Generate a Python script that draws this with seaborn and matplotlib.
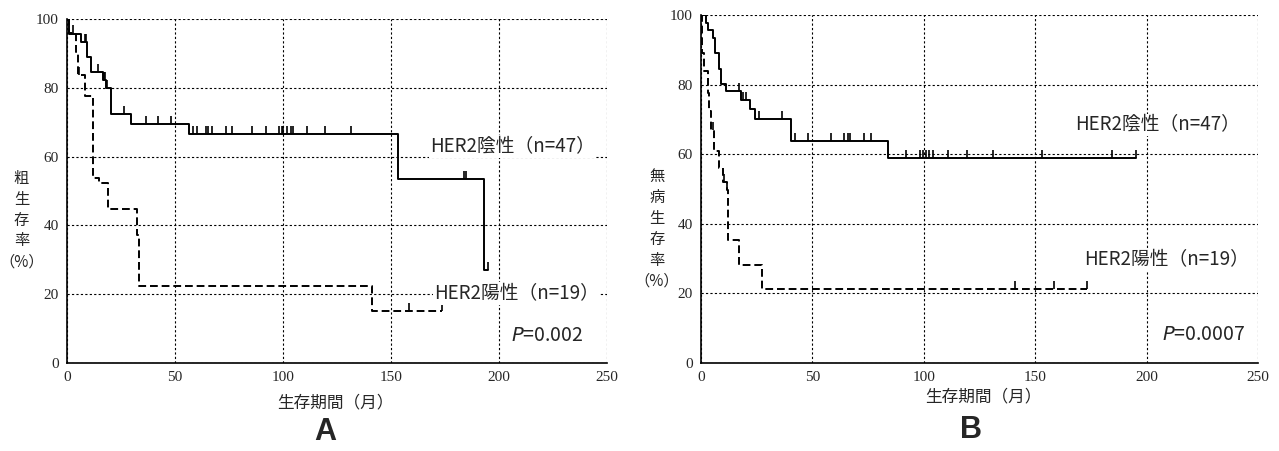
import numpy as np
import pandas as pd
import matplotlib
matplotlib.use("Agg")
import matplotlib.pyplot as plt
import seaborn as sns

# --------------------------
# DATA
# --------------------------
# Panel A: overall survival
a_neg_time = [0, 0.8, 6.3, 9.4, 10.9, 16.5, 18.0, 20.2, 29.5, 56.5, 153.4, 193.2, 195.0]
a_neg_surv = [100, 95.8, 93.5, 89.2, 84.8, 82.3, 80.0, 72.4, 69.6, 66.6, 53.4, 27.0, 27.0]
a_neg_cens = [8.5, 9.0, 14.2, 17.0, 17.5, 18.5, 26.4, 36.4, 42.3, 48.1, 58.5, 60.0, 64.4,
              65.4, 67.0, 73.6, 76.2, 85.5, 92.1, 98.3, 99.4, 100.1, 101.7, 103.5, 104.5,
              111.3, 119.4, 131.3, 184.0, 184.8, 195.0]

a_pos_time = [0, 1.0, 4.2, 5.2, 8.3, 12.2, 14.8, 19.1, 32.3, 33.3, 141.4, 173.5]
a_pos_surv = [100, 96.0, 90.6, 83.8, 77.8, 53.8, 52.3, 44.7, 37.2, 22.3, 15.1, 15.1]
a_pos_cens = [3.0, 5.5, 158.3, 173.5]

# Panel B: disease-free survival
b_neg_time = [0, 2.1, 3.3, 5.5, 6.3, 8.2, 9.0, 11.2, 17.8, 22.0, 24.2, 40.2, 84.1, 195.2]
b_neg_surv = [100, 97.8, 95.7, 93.3, 89.0, 84.5, 80.2, 78.0, 75.6, 72.9, 70.0, 63.8, 59.0, 59.0]
b_neg_cens = [17.2, 19.0, 20.2, 26.2, 36.2, 42.2, 48.2, 58.2, 64.2, 66.1, 66.9, 73.2, 76.2,
              92.0, 98.3, 99.5, 101.0, 102.5, 104.0, 111.0, 119.2, 130.9, 152.9, 184.3, 195.2]

b_pos_time = [0, 0.5, 1.2, 3.0, 3.6, 4.6, 5.8, 7.9, 10.0, 11.5, 12.3, 17.1, 27.2, 173.1]
b_pos_surv = [100, 89.0, 84.0, 77.5, 72.5, 67.0, 61.0, 56.0, 52.0, 49.6, 35.3, 28.2, 21.2, 21.2]
b_pos_cens = [5.6, 10.5, 11.8, 140.9, 158.4, 173.1]

x_ticks = [0, 50, 100, 150, 200, 250]
y_ticks = [0, 20, 40, 60, 80, 100]

label_neg = "HER2陰性（n=47）"
label_pos = "HER2陽性（n=19）"
x_label = "生存期間（月）"

# --------------------------
# STYLE
# --------------------------
sns.set_style("white")
plt.rcParams['font.family'] = ['Noto Sans CJK JP', 'DejaVu Sans']
CJK = ['Noto Sans CJK JP', 'DejaVu Sans']
SERIF = ['Liberation Serif', 'DejaVu Serif']


def step_value(times, surv, t):
    idx = np.searchsorted(times, t, side="right") - 1
    return np.asarray(surv)[idx]


def draw_curve(ax, times, surv, cens, dashed):
    df = pd.DataFrame({"time": times, "surv": surv})
    ls = (0, (4, 2)) if dashed else "-"
    sns.lineplot(data=df, x="time", y="surv", ax=ax, estimator=None, sort=False,
                 drawstyle="steps-post", color="black", linewidth=1.4, linestyle=ls)
    cdf = pd.DataFrame({"time": cens, "surv": [step_value(times, surv, c) for c in cens]})
    sns.scatterplot(data=cdf, x="time", y="surv", ax=ax, marker=2, s=30,
                    color="black", linewidth=1.2, zorder=5)


def style_axes(ax):
    ax.set_xlim(0, 250)
    ax.set_ylim(0, 100)
    ax.set_xticks(x_ticks)
    ax.set_yticks(y_ticks)
    ax.grid(True, color="black", linestyle=(0, (2, 2)), linewidth=0.8)
    for side in ["top", "right"]:
        ax.spines[side].set_visible(False)
    for side in ["left", "bottom"]:
        ax.spines[side].set_color("black")
        ax.spines[side].set_linewidth(1.2)
    ax.tick_params(direction="out", length=4, width=1, color="black", pad=2)
    for lab in ax.get_xticklabels() + ax.get_yticklabels():
        lab.set_family(SERIF)
        lab.set_fontsize(11)
    ax.set_xlabel("")
    ax.set_ylabel("")


fig = plt.figure(figsize=(12.79, 4.51), dpi=100)
ax_a = fig.add_axes([0.0524, 0.1958, 0.4222, 0.761])
ax_b = fig.add_axes([0.5481, 0.1958, 0.4355, 0.771])

box = dict(facecolor="white", edgecolor="none", pad=0.5)
ptxt = dict(fontsize=14, va="center", ha="right", zorder=6)

# --------------------------
# PANEL A
# --------------------------
draw_curve(ax_a, a_neg_time, a_neg_surv, a_neg_cens, dashed=False)
draw_curve(ax_a, a_pos_time, a_pos_surv, a_pos_cens, dashed=True)
style_axes(ax_a)
ax_a.text(168, 63, label_neg, fontsize=13.5, family=CJK, va="center", ha="left", bbox=box, zorder=6)
ax_a.text(170, 20.2, label_pos, fontsize=13.5, family=CJK, va="center", ha="left", bbox=box, zorder=6)
ax_a.text(239, 7.8, r"$\it{P}$=0.002", **ptxt)

fig.text(0.0168, 0.512, "粗\n生\n存\n率\n（%）", fontsize=11, family=CJK,
         ha="center", va="center", linespacing=1.3)
fig.text(0.262, 0.106, x_label, fontsize=12, family=CJK, ha="center", va="center")
fig.text(0.254, 0.042, "A", fontsize=22, family=['Liberation Sans', 'DejaVu Sans'],
         weight="bold", ha="center", va="center")

# --------------------------
# PANEL B
# --------------------------
draw_curve(ax_b, b_neg_time, b_neg_surv, b_neg_cens, dashed=False)
draw_curve(ax_b, b_pos_time, b_pos_surv, b_pos_cens, dashed=True)
style_axes(ax_b)
ax_b.text(168, 68.4, label_neg, fontsize=13.5, family=CJK, va="center", ha="left", bbox=box, zorder=6)
ax_b.text(172, 29.7, label_pos, fontsize=13.5, family=CJK, va="center", ha="left", bbox=box, zorder=6)
ax_b.text(244, 8, r"$\it{P}$=0.0007", **ptxt)

fig.text(0.5135, 0.493, "無\n病\n生\n存\n率\n（%）", fontsize=11, family=CJK,
         ha="center", va="center", linespacing=1.3)
fig.text(0.769, 0.120, x_label, fontsize=12, family=CJK, ha="center", va="center")
fig.text(0.759, 0.047, "B", fontsize=22, family=['Liberation Sans', 'DejaVu Sans'],
         weight="bold", ha="center", va="center")

fig.savefig("out.png", dpi=100)
